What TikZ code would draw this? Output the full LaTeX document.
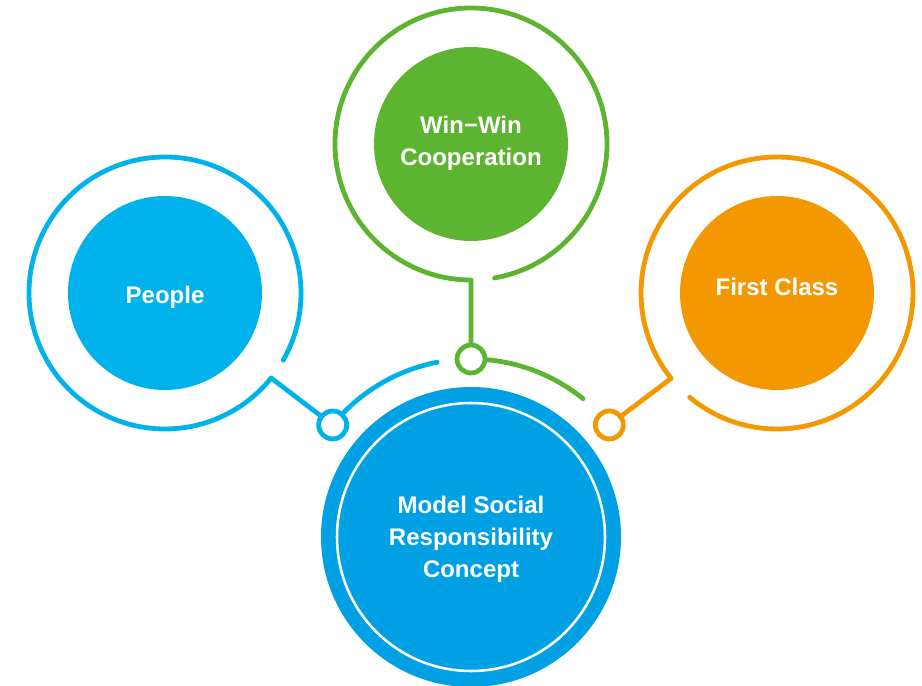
\documentclass[tikz,border=0pt]{standalone}
\usepackage{fontspec}
\setmainfont{Liberation Sans}
\usetikzlibrary{calc}
\definecolor{pblue}{RGB}{0,178,236}
\definecolor{cblue}{RGB}{0,160,228}
\definecolor{wgreen}{RGB}{93,180,49}
\definecolor{forange}{RGB}{243,152,0}

\begin{document}
\begin{tikzpicture}[x=0.75pt, y=0.75pt,
  ring/.style={line width=3.6pt, line cap=round, line join=round},
  bubble/.style={circle, minimum size=145.5pt, inner sep=0pt},
  txt/.style={text=white, font=\fontsize{18}{24}\selectfont\bfseries, align=center},
  knot/.style={circle, draw=#1, line width=3.6pt, minimum size=21pt, inner sep=0pt}]
\useasboundingbox (0,0) rectangle (922,686);

% centre
\node[bubble, fill=cblue, minimum size=225pt] (core) at (471,149) {};
\draw[white, line width=1.9pt] (core.center) circle[radius=134];
\node[txt] (coretxt) at (471,147) {Model Social\\Responsibility\\Concept};

% knots on the path round the centre
\node[knot=pblue] (pknot) at ($(core)+(141:178)$) {};
\node[knot=wgreen] (gknot) at ($(core)+(90:178)$) {};
\node[knot=forange] (oknot) at ($(core)+(39:178)$) {};
\draw[ring, pblue] ($(core)+(136:178)$) arc[start angle=136, end angle=101, radius=178];
\draw[ring, wgreen] ($(core)+(85:178)$) arc[start angle=85, end angle=51, radius=178];

% People
\node[bubble, fill=pblue] (people) at (165,393) {};
\node[txt] (peopletxt) at (165,389) {People};
\draw[ring, pblue] ($(people)+(-29.6:136)$) arc[start angle=-29.6, end angle=321.3, radius=136] -- (pknot);

% Win-Win
\node[bubble, fill=wgreen] (winwin) at (471,542) {};
\node[txt] (winwintxt) at (471,543) {Win−Win\\Cooperation};
\draw[ring, wgreen] ($(winwin)+(-80:136)$) arc[start angle=-80, end angle=270, radius=136] -- (gknot);

% First Class
\node[bubble, fill=forange] (first) at (777,393) {};
\node[txt] (firsttxt) at (777,399) {First Class};
\draw[ring, forange] ($(first)+(230.1:136)$) arc[start angle=230.1, end angle=578.9, radius=136] -- (oknot);

\end{tikzpicture}
\end{document}
